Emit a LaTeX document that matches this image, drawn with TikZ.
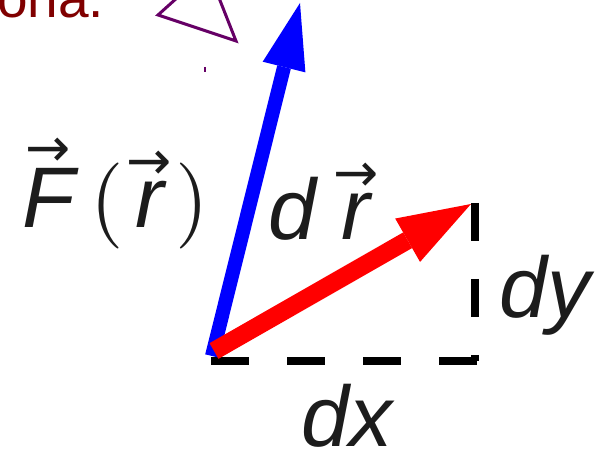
\documentclass[tikz,border=0pt]{standalone}
\usepackage{fontspec}
\setmainfont{Liberation Sans}
\newfontfamily\flechafont{DejaVu Sans}
\newfontfamily\parenfont{lmroman10-regular.otf}
\usetikzlibrary{arrows.meta, calc}
\definecolor{fzaazul}{RGB}{0, 0, 255}
\definecolor{fzarojo}{RGB}{255, 0, 0}
\definecolor{fzatexto}{RGB}{28, 28, 28}
\definecolor{fzagranate}{RGB}{128, 0, 0}
\definecolor{fzamorado}{RGB}{102, 0, 102}

% flecha de vector sobre una letra
\newcommand{\vecflecha}[1]{\setbox0=\hbox{#1}\rlap{\hbox to \wd0{\hss\raisebox{\dimexpr\ht0+2pt\relax}{\fontsize{54}{54}\flechafont\upshape →}\hss}}\box0}
% parentesis finos
\newcommand{\parfino}[1]{{\parenfont\upshape #1}}

\begin{document}
\begin{tikzpicture}[x=1pt, y=-1pt,
    etiqueta/.style={fzatexto, inner sep=0pt, anchor=base west, font=\fontsize{86}{90}\selectfont\itshape},
    discontinua/.style={black, line width=8pt, dash pattern=on 38pt off 38pt}]

\useasboundingbox (0,0) rectangle (598,462);
\clip (0,0) rectangle (598,462);

% === Restos de la figura anterior ===
\node[fzagranate, inner sep=0pt, anchor=base west, font=\fontsize{55}{60}\selectfont] (ona) at (-3,18) {ona.};
\draw[fzamorado, line width=3pt] (158,15) -- (236,41) -- (208,-30) -- cycle;
\draw[fzamorado, line width=1.5pt] (205,67) -- (205,72);

% === Puntos ===
\coordinate (pieF) at (212,356);
\coordinate (puntaF) at (300,3);
\coordinate (pieR) at (214,351);
\coordinate (puntaR) at (471,204);

% === Catetos dx, dy ===
\coordinate (dxIni) at (211,361);
\coordinate (dxFin) at (481,361);
\coordinate (dyIni) at (475,203);
\coordinate (dyFin) at (475,361);
\draw[discontinua] (dxIni) -- (dxFin);
\draw[discontinua] (dyIni) -- (dyFin);

% === Vectores ===
% fuerza F(r)
\draw[fzaazul, line width=14pt, -{Triangle[width=44pt, length=66pt, line width=0pt]}] (pieF) -- (puntaF);
% desplazamiento dr
\draw[fzarojo, line width=18pt, -{Triangle[width=50pt, length=73pt, line width=0pt]}] (pieR) -- (puntaR);

% === Etiquetas ===
\node[etiqueta] (lblF) at (22,228) {\vecflecha{F}\hspace{16pt}\parfino{(}\hspace{11pt}\vecflecha{r}\hspace{12pt}\parfino{)}};
\node[etiqueta] (lblDr) at (268,240) {d\hspace{0.3em}\vecflecha{r}};
\node[etiqueta] (lblDy) at (499,318) {dy};
\node[etiqueta] (lblDx) at (301,447) {dx};

\end{tikzpicture}
\end{document}
